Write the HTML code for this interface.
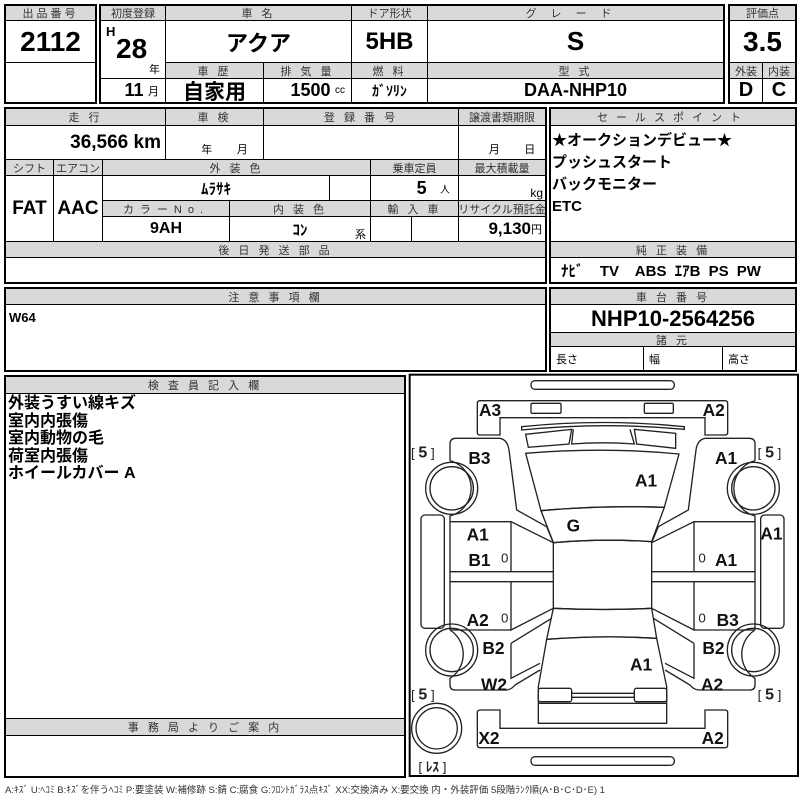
<!DOCTYPE html>
<html><head><meta charset="utf-8">
<style>
*{margin:0;padding:0}
body{width:800px;height:800px;background:#fff;position:relative;overflow:hidden;font-family:"Liberation Sans","Noto Sans CJK JP",sans-serif;color:#000}
.c{position:absolute;border:1px solid #000;box-sizing:border-box;display:flex;align-items:center;justify-content:center;overflow:hidden;white-space:nowrap}
.h{background:#d9d9d9;font-size:11px;color:#333;letter-spacing:3px}
.b{font-weight:bold}
.f{position:absolute;border:2px solid #000;box-sizing:border-box}
.t{position:absolute;white-space:nowrap}
</style></head><body>

<div class="f" style="left:4px;top:4px;width:93px;height:100px"></div>
<div class="f" style="left:99px;top:4px;width:626px;height:100px"></div>
<div class="f" style="left:728px;top:4px;width:69px;height:100px"></div>
<div class="f" style="left:4px;top:107px;width:543px;height:177px"></div>
<div class="f" style="left:549px;top:107px;width:248px;height:177px"></div>
<div class="f" style="left:4px;top:287px;width:543px;height:85px"></div>
<div class="f" style="left:549px;top:287px;width:248px;height:85px"></div>
<div class="f" style="left:4px;top:375px;width:402px;height:403px"></div>

<div class="c h" style="left:5px;top:5px;width:91px;height:16px">出品番号</div>
<div class="c b" style="left:5px;top:20px;width:91px;height:43px;font-size:28px">2112</div>
<div class="c" style="left:5px;top:62px;width:91px;height:41px"></div>

<div class="c h" style="left:100px;top:5px;width:66px;height:16px;letter-spacing:0">初度登録</div>
<div class="c h" style="left:165px;top:5px;width:187px;height:16px">車 名</div>
<div class="c h" style="left:351px;top:5px;width:77px;height:16px;letter-spacing:0">ドア形状</div>
<div class="c h" style="left:427px;top:5px;width:297px;height:16px;letter-spacing:14px">グレード</div>
<div class="c" style="left:100px;top:20px;width:66px;height:59px"></div>
<div class="t b" style="left:106px;top:24px;font-size:13px">H</div>
<div class="t b" style="left:116px;top:33px;font-size:28px">28</div>
<div class="t" style="left:149px;top:61px;font-size:11px">年</div>
<div class="c b" style="left:165px;top:20px;width:187px;height:43px;font-size:22px">アクア</div>
<div class="c b" style="left:351px;top:20px;width:77px;height:43px;font-size:24px">5HB</div>
<div class="c b" style="left:427px;top:20px;width:297px;height:43px;font-size:26px">S</div>
<div class="c h" style="left:165px;top:62px;width:99px;height:17px">車 歴</div>
<div class="c h" style="left:263px;top:62px;width:89px;height:17px">排 気 量</div>
<div class="c h" style="left:351px;top:62px;width:77px;height:17px">燃 料</div>
<div class="c h" style="left:427px;top:62px;width:297px;height:17px">型 式</div>
<div class="c" style="left:100px;top:78px;width:66px;height:25px;justify-content:flex-end;padding-right:6px"><b style="font-size:18px">11</b>&nbsp;<span style="font-size:11px">月</span></div>
<div class="c b" style="left:165px;top:78px;width:99px;height:25px;font-size:21px">自家用</div>
<div class="c" style="left:263px;top:78px;width:89px;height:25px;justify-content:flex-end;padding-right:6px"><b style="font-size:18px">1500</b>&nbsp;<span style="font-size:10px">cc</span></div>
<div class="c b" style="left:351px;top:78px;width:77px;height:25px;font-size:14px">ｶﾞｿﾘﾝ</div>
<div class="c b" style="left:427px;top:78px;width:297px;height:25px;font-size:18px">DAA-NHP10</div>

<div class="c h" style="left:729px;top:5px;width:67px;height:16px;letter-spacing:0">評価点</div>
<div class="c b" style="left:729px;top:20px;width:67px;height:43px;font-size:28px">3.5</div>
<div class="c h" style="left:729px;top:62px;width:34px;height:17px;letter-spacing:0">外装</div>
<div class="c h" style="left:762px;top:62px;width:34px;height:17px;letter-spacing:0">内装</div>
<div class="c b" style="left:729px;top:78px;width:34px;height:25px;font-size:20px">D</div>
<div class="c b" style="left:762px;top:78px;width:34px;height:25px;font-size:20px">C</div>

<div class="c h" style="left:5px;top:108px;width:161px;height:18px">走 行</div>
<div class="c h" style="left:165px;top:108px;width:99px;height:18px">車 検</div>
<div class="c h" style="left:263px;top:108px;width:196px;height:18px">登 録 番 号</div>
<div class="c h" style="left:458px;top:108px;width:88px;height:18px;letter-spacing:0">譲渡書類期限</div>
<div class="c b" style="left:5px;top:125px;width:161px;height:35px;font-size:19px;justify-content:flex-end;padding-right:4px">36,566 km</div>
<div class="c" style="left:165px;top:125px;width:99px;height:35px;font-size:11px;align-items:flex-end;padding-bottom:2px;padding-left:20px">年&nbsp;&nbsp;&nbsp;&nbsp;&nbsp;&nbsp;&nbsp;&nbsp;月</div>
<div class="c" style="left:263px;top:125px;width:196px;height:35px"></div>
<div class="c" style="left:458px;top:125px;width:88px;height:35px;font-size:11px;align-items:flex-end;padding-bottom:2px;padding-left:20px">月&nbsp;&nbsp;&nbsp;&nbsp;&nbsp;&nbsp;&nbsp;&nbsp;日</div>
<div class="c h" style="left:5px;top:159px;width:49px;height:17px;letter-spacing:0">シフト</div>
<div class="c h" style="left:53px;top:159px;width:50px;height:17px;letter-spacing:0">エアコン</div>
<div class="c h" style="left:102px;top:159px;width:269px;height:17px">外 装 色</div>
<div class="c h" style="left:370px;top:159px;width:89px;height:17px;letter-spacing:0">乗車定員</div>
<div class="c h" style="left:458px;top:159px;width:88px;height:17px;letter-spacing:0">最大積載量</div>
<div class="c b" style="left:5px;top:175px;width:49px;height:67px;font-size:19px">FAT</div>
<div class="c b" style="left:53px;top:175px;width:50px;height:67px;font-size:19px">AAC</div>
<div class="c b" style="left:102px;top:175px;width:228px;height:26px;font-size:15px">ﾑﾗｻｷ</div>
<div class="c" style="left:329px;top:175px;width:42px;height:26px"></div>
<div class="c" style="left:370px;top:175px;width:89px;height:26px;justify-content:flex-end;padding-right:8px"><b style="font-size:18px">5</b>&nbsp;&nbsp;&nbsp;<span style="font-size:10px">人</span></div>
<div class="c" style="left:458px;top:175px;width:88px;height:26px;justify-content:flex-end;padding-right:2px;font-size:12px;align-items:flex-end">kg</div>
<div class="c h" style="left:102px;top:200px;width:128px;height:17px;letter-spacing:6px">カラーNo.</div>
<div class="c h" style="left:229px;top:200px;width:142px;height:17px">内 装 色</div>
<div class="c h" style="left:370px;top:200px;width:89px;height:17px">輸 入 車</div>
<div class="c h" style="left:458px;top:200px;width:88px;height:17px;letter-spacing:0">リサイクル預託金</div>
<div class="c b" style="left:102px;top:216px;width:128px;height:26px;font-size:16px">9AH</div>
<div class="c b" style="left:229px;top:216px;width:142px;height:26px;font-size:15px">ｺﾝ</div>
<div class="t" style="left:355px;top:226px;font-size:11px">系</div>
<div class="c" style="left:370px;top:216px;width:42px;height:26px"></div>
<div class="c" style="left:411px;top:216px;width:48px;height:26px"></div>
<div class="c" style="left:458px;top:216px;width:88px;height:26px;justify-content:flex-end;padding-right:3px"><b style="font-size:17px">9,130</b><span style="font-size:11px">円</span></div>
<div class="c h" style="left:5px;top:241px;width:541px;height:17px">後 日 発 送 部 品</div>
<div class="c" style="left:5px;top:257px;width:541px;height:26px"></div>

<div class="c h" style="left:550px;top:108px;width:246px;height:18px;letter-spacing:8px">セールスポイント</div>
<div class="c" style="left:550px;top:125px;width:246px;height:117px"></div>
<div class="t b" style="left:552px;top:130px;font-size:15px;line-height:22px">★オークションデビュー★<br>プッシュスタート<br>バックモニター<br>ETC</div>
<div class="c h" style="left:550px;top:241px;width:246px;height:17px">純 正 装 備</div>
<div class="c b" style="left:550px;top:257px;width:246px;height:26px;font-size:15px;justify-content:flex-start;padding-left:10px;word-spacing:4px">ﾅﾋﾞ&nbsp; TV&nbsp; ABS ｴｱB PS PW</div>

<div class="c h" style="left:5px;top:288px;width:541px;height:17px">注 意 事 項 欄</div>
<div class="c" style="left:5px;top:304px;width:541px;height:67px"></div>
<div class="t b" style="left:9px;top:310px;font-size:13px">W64</div>
<div class="c h" style="left:550px;top:288px;width:246px;height:17px">車 台 番 号</div>
<div class="c b" style="left:550px;top:304px;width:246px;height:29px;font-size:22px">NHP10-2564256</div>
<div class="c h" style="left:550px;top:332px;width:246px;height:15px">諸 元</div>
<div class="c" style="left:550px;top:346px;width:94px;height:25px;font-size:11px;justify-content:flex-start;padding-left:5px">長さ</div>
<div class="c" style="left:643px;top:346px;width:80px;height:25px;font-size:11px;justify-content:flex-start;padding-left:5px">幅</div>
<div class="c" style="left:722px;top:346px;width:74px;height:25px;font-size:11px;justify-content:flex-start;padding-left:5px">高さ</div>

<div class="c h" style="left:5px;top:376px;width:400px;height:18px">検 査 員 記 入 欄</div>
<div class="c" style="left:5px;top:393px;width:400px;height:326px"></div>
<div class="t b" style="left:8px;top:395px;font-size:16px;line-height:17.6px">外装うすい線キズ<br>室内内張傷<br>室内動物の毛<br>荷室内張傷<br>ホイールカバー A</div>
<div class="c h" style="left:5px;top:718px;width:400px;height:18px">事 務 局 よ り ご 案 内</div>
<div class="c" style="left:5px;top:735px;width:400px;height:42px"></div>

<svg style="position:absolute;left:405px;top:370px" width="395" height="410" viewBox="0 0 1185 1230">
<g fill="none" stroke="#222" stroke-width="4">
<rect x="14" y="14" width="1165" height="1204" stroke="#000" stroke-width="6"/>
<rect x="378" y="32" width="430" height="26" rx="12"/>
<rect x="378" y="1160" width="430" height="26" rx="12"/>
<path d="M225,92 L960,92 Q968,92 968,100 L968,188 Q968,195 960,195 L900,195 L900,143 L285,143 L285,195 L225,195 Q217,195 217,188 L217,100 Q217,92 225,92 Z"/>
<rect x="378" y="100" width="90" height="30" rx="4"/>
<rect x="718" y="100" width="87" height="30" rx="4"/>
<path d="M225,1020 L285,1020 L285,1075 L900,1075 L900,1020 L960,1020 Q968,1020 968,1028 L968,1125 Q968,1133 960,1133 L225,1133 Q217,1133 217,1125 L217,1028 Q217,1020 225,1020 Z"/>
<path d="M350,170 Q595,145 838,170 L838,178 Q595,155 350,180 Z"/>
<path d="M362,193 L500,178 L492,222 L370,232 Z"/>
<path d="M688,178 L812,190 L812,235 L695,222 Z"/>
<path d="M505,178 L500,222 Q595,215 688,222 L675,178"/>
<path d="M362,250 Q595,230 822,252 L778,412 Q595,405 408,422 Z"/>
<path d="M408,422 Q595,405 778,412 L740,515 Q595,505 445,518 Z"/>
<path d="M445,518 Q595,505 740,515 L740,715 Q595,722 445,715 Z"/>
<path d="M445,715 Q595,722 740,715 L755,805 Q595,795 425,808 Z"/>
<path d="M425,808 Q595,795 755,805 L785,950 L785,1060 L400,1060 L400,950 Z"/>
<rect x="400" y="955" width="100" height="40" rx="6"/>
<rect x="688" y="955" width="97" height="40" rx="6"/>
<path d="M500,970 L688,970 M500,982 L688,982 M400,1000 L785,1000"/>
<circle cx="140" cy="355" r="78"/><circle cx="140" cy="355" r="65"/>
<circle cx="140" cy="840" r="78"/><circle cx="140" cy="840" r="65"/>
<circle cx="1045" cy="355" r="78"/><circle cx="1045" cy="355" r="65"/>
<circle cx="1045" cy="840" r="78"/><circle cx="1045" cy="840" r="65"/>
<circle cx="95" cy="1075" r="75"/><circle cx="95" cy="1075" r="62"/>
<rect x="48" y="435" width="70" height="340" rx="12"/>
<rect x="1067" y="435" width="70" height="340" rx="12"/>
<g id="side">
<path d="M135,272 L135,222 Q135,205 152,205 L285,205 Q308,210 312,240 L335,420 L425,470 L445,518"/>
<path d="M135,272 A86,86 0 0 1 135,438 L135,455"/>
<path d="M135,455 L318,455 L445,518 M318,455 L318,605 M135,455 L135,780 M135,605 L445,605 M135,635 L445,635 M318,635 L318,780 L445,715 M135,780 L318,780"/>
<path d="M135,780 A86,86 0 0 1 135,925 L135,945 Q135,960 150,960 L305,960 Q320,958 330,945 L405,900"/>
<path d="M318,820 L440,745 M318,820 L318,925 L405,880"/>
</g>
<use href="#side" transform="translate(1185,0) scale(-1,1)"/>
</g>
<g font-family="Liberation Sans, sans-serif" font-weight="bold" font-size="52" fill="#111">
<text x="222" y="138">A3</text><text x="893" y="138">A2</text>
<text x="190" y="282">B3</text><text x="930" y="282">A1</text>
<text x="690" y="350">A1</text><text x="485" y="485">G</text>
<text x="185" y="512">A1</text><text x="1066" y="508">A1</text>
<text x="190" y="588">B1</text><text x="930" y="588">A1</text>
<text x="185" y="768">A2</text><text x="935" y="768">B3</text>
<text x="232" y="852">B2</text><text x="892" y="852">B2</text>
<text x="675" y="902">A1</text>
<text x="228" y="962">W2</text><text x="888" y="962">A2</text>
<text x="220" y="1122">X2</text><text x="890" y="1122">A2</text>
</g>
<g font-family="Liberation Sans, sans-serif" font-size="40" fill="#222">
<text x="288" y="578">0</text><text x="880" y="578">0</text>
<text x="288" y="758">0</text><text x="880" y="758">0</text>
<text x="18" y="262">[ <tspan font-weight="bold" font-size="48">5</tspan> ]</text>
<text x="1058" y="262">[ <tspan font-weight="bold" font-size="48">5</tspan> ]</text>
<text x="18" y="988">[ <tspan font-weight="bold" font-size="48">5</tspan> ]</text>
<text x="1058" y="988">[ <tspan font-weight="bold" font-size="48">5</tspan> ]</text>
<text x="40" y="1205" font-family="Liberation Sans, Noto Sans CJK JP, sans-serif">[ <tspan font-weight="bold">ﾚｽ</tspan> ]</text>
</g>
</svg>

<div class="t" style="left:5px;top:782px;font-size:9.5px;color:#333">A:ｷｽﾞ U:ﾍｺﾐ B:ｷｽﾞを伴うﾍｺﾐ P:要塗装 W:補修跡 S:錆 C:腐食 G:ﾌﾛﾝﾄｶﾞﾗｽ点ｷｽﾞ XX:交換済み X:要交換 内・外装評価 5段階ﾗﾝｸ順(A･B･C･D･E) 1</div>
</body></html>
